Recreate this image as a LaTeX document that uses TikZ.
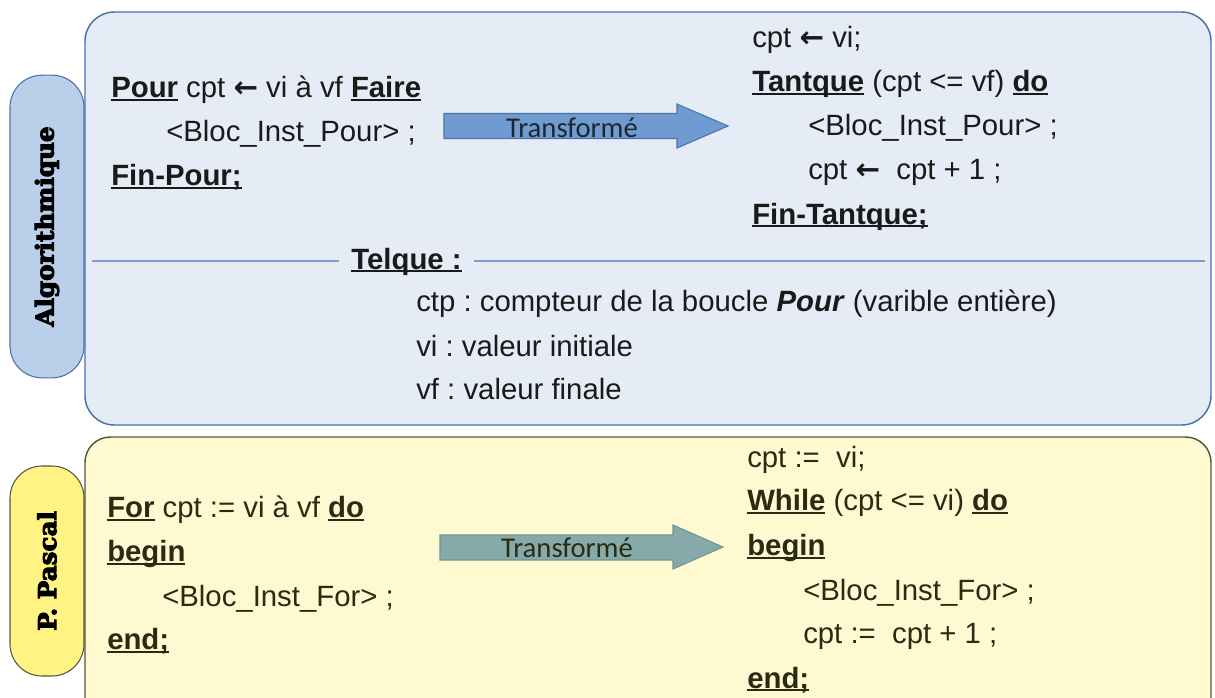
\documentclass[tikz,border=0pt]{standalone}
\usepackage{fontspec}
\setmainfont{Liberation Sans}
\newfontfamily\calib{Carlito}
\newfontfamily\slab{DejaVu Serif}[BoldFeatures={FakeBold=4}]
\newfontfamily\arrowfont{DejaVu Sans}
\frenchspacing

\definecolor{algfill}{HTML}{E6ECF5}
\definecolor{algedge}{HTML}{4A72AA}
\definecolor{algtabfill}{HTML}{B9CFEA}
\definecolor{sepcol}{HTML}{7F9CCB}
\definecolor{arrAfill}{HTML}{6F9BD1}
\definecolor{arrAedge}{HTML}{4A74AD}
\definecolor{algink}{HTML}{1A1A1A}
\definecolor{arrAink}{HTML}{1F2633}
\definecolor{pasfill}{HTML}{FFF9D2}
\definecolor{pasedge}{HTML}{55553A}
\definecolor{pastabfill}{HTML}{FFF383}
\definecolor{arrPfill}{HTML}{86AAAA}
\definecolor{arrPedge}{HTML}{6E9696}
\definecolor{pasink}{HTML}{2B2A12}

% bold keyword with a rule just under the baseline
\newcommand\kw[1]{{\bfseries\setbox0\hbox{#1}\rlap{\rule[-0.11em]{\wd0}{0.07em}}\box0}}
% assignment arrow
\newcommand\getsarrow{{\arrowfont\bfseries ←}}

\tikzset{
  panel/.style={line width=1.1pt, rounded corners=22pt},
  algpanel/.style={panel, draw=algedge, fill=algfill},
  paspanel/.style={panel, draw=pasedge, fill=pasfill, rounded corners=19pt},
  tab/.style={rotate=90, minimum height=55.5pt, rounded corners=24pt,
    line width=0.8pt, inner sep=0pt, font=\slab\bfseries\fontsize{18.5}{20}\selectfont},
  algtab/.style={tab, draw=algedge, fill=algtabfill, text=black},
  pastab/.style={tab, draw=pasedge, fill=pastabfill, text=black},
  code/.style={inner sep=0pt, anchor=base west},
  algcode/.style={code, text=algink},
  pascode/.style={code, text=pasink},
  sepline/.style={draw=sepcol, line width=1.1pt, shorten >=9pt},
  bigarrow/.style={line width=0.8pt},
  arrlabel/.style={inner sep=0pt, anchor=base, font=\calib\fontsize{21.5}{24}\selectfont}
}

\begin{document}
\begin{tikzpicture}[x=0.75pt, y=-0.75pt, font=\fontsize{22}{26}\selectfont]
\useasboundingbox (0,0) rectangle (1215,697);
\clip (0,0) rectangle (1215,697);

% ---------- Algorithmique panel ----------
\draw[algpanel] (85,12) rectangle (1211,425);
\node[algtab, minimum width=227pt] (tabA) at (47,226.5) {Algorithmique};

\node[algcode] (pour1) at (111,97.5) {\kw{Pour} cpt \getsarrow{} vi à vf \kw{Faire}};
\node[algcode] (pour2) at (166,141.5) {<Bloc\_Inst\_Pour> ;};
\node[algcode] (pour3) at (111,185.5) {\kw{Fin-Pour;}};

\draw[bigarrow, draw=arrAedge, fill=arrAfill]
  (444,113.5) -- (677,113.5) -- (677,104) -- (728,126) -- (677,148)
  -- (677,138.5) -- (444,138.5) -- cycle;
\node[arrlabel, text=arrAink] (trA) at (572,137) {Transformé};

\node[algcode] (tq1) at (752,47.5) {cpt \getsarrow{} vi;};
\node[algcode] (tq2) at (752,91.5) {\kw{Tantque} (cpt <= vf) \kw{do}};
\node[algcode] (tq3) at (808,135.5) {<Bloc\_Inst\_Pour> ;};
\node[algcode] (tq4) at (808,179.5) {cpt \getsarrow\ \ cpt + 1 ;};
\node[algcode] (tq5) at (752,224) {\kw{Fin-Tantque;}};

\node[algcode, anchor=base] (telque) at (406.5,269) {\kw{Telque :}};
\coordinate (sepL) at (92,261);
\coordinate (sepR) at (1205,261);
\draw[sepline] (sepL) -- (sepL -| telque.west);
\draw[sepline] (sepR) -- (sepR -| telque.east);

\node[algcode] (def1) at (416,311) {ctp : compteur de la boucle \textbf{\textit{Pour}} (varible entière)};
\node[algcode] (def2) at (416,356) {vi : valeur initiale};
\node[algcode] (def3) at (416,399) {vf : valeur finale};

% ---------- Pascal panel ----------
\draw[paspanel] (85,437) rectangle (1211,740);
\node[pastab, minimum width=157.5pt] (tabP) at (47,571) {P. Pascal};

\node[pascode] (for1) at (107,517.5) {\kw{For} cpt := vi à vf \kw{do}};
\node[pascode] (for2) at (107,561.5) {\kw{begin}};
\node[pascode] (for3) at (162,606) {<Bloc\_Inst\_For> ;};
\node[pascode] (for4) at (107,649.5) {\kw{end;}};

\draw[bigarrow, draw=arrPedge, fill=arrPfill]
  (440,535) -- (673,535) -- (673,525) -- (723,547) -- (673,569)
  -- (673,560) -- (440,560) -- cycle;
\node[arrlabel, text=pasink] (trP) at (567,557) {Transformé};

\node[pascode] (wh1) at (747,467.5) {cpt :=\ \ vi;};
\node[pascode] (wh2) at (747,510.5) {\kw{While} (cpt <= vi) \kw{do}};
\node[pascode] (wh3) at (747,555.5) {\kw{begin}};
\node[pascode] (wh4) at (803,600.5) {<Bloc\_Inst\_For> ;};
\node[pascode] (wh5) at (803,643.5) {cpt :=\ \ cpt + 1 ;};
\node[pascode] (wh6) at (747,688) {\kw{end;}};
\end{tikzpicture}
\end{document}
